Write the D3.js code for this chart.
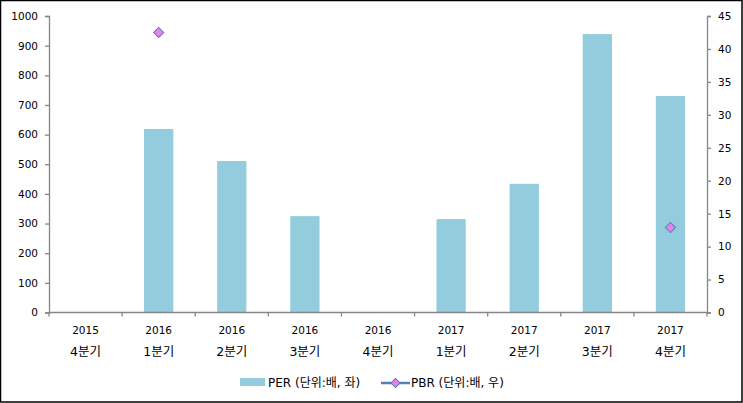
<!DOCTYPE html>
<html><head><meta charset="utf-8">
<script src="https://cdn.jsdelivr.net/npm/d3@7"></script>
<style>
html,body{margin:0;padding:0;background:#fff;}
svg{display:block;}
text{font-family:"DejaVu Sans","Noto Sans CJK KR",sans-serif;fill:#000;}
</style></head>
<body><svg id="c" width="743" height="403"></svg>
<script>
const years = ["2015","2016","2016","2016","2016","2017","2017","2017","2017"];
const quarters = ["4분기","1분기","2분기","3분기","4분기","1분기","2분기","3분기","4분기"];
const perValues = [null, 619, 511, 325, null, 315, 434, 939, 730];
const pbrValues = [null, 42.5, null, null, null, null, null, null, 12.9];
const leftTicks = [0,100,200,300,400,500,600,700,800,900,1000];
const rightTicks = [0,5,10,15,20,25,30,35,40,45];
const legendLabels = ["PER (단위:배, 좌)", "PBR (단위:배, 우)"];

const svg = d3.select("#c");
const W = 743, H = 403;
const m = {l:49, r:36, t:16, b:90.5};
const x0 = m.l, x1 = W - m.r, yTop = m.t, yBot = H - m.b;

svg.append("rect").attr("x",0.5).attr("y",0.5).attr("width",W-1.5).attr("height",H-1.5)
  .attr("fill","#fff").attr("stroke","#000").attr("stroke-width",1.5);

const idx = d3.range(years.length);
const x = d3.scaleBand().domain(idx).range([x0, x1]).paddingInner(0).paddingOuter(0);
const yL = d3.scaleLinear().domain([0,1000]).range([yBot, yTop]);
const yR = d3.scaleLinear().domain([0,45]).range([yBot, yTop]);

const axisColor = "#868686";
const gL = svg.append("g").attr("transform",`translate(${x0},0)`)
  .call(d3.axisLeft(yL).tickValues(leftTicks).tickSize(4).tickPadding(7).tickFormat(d3.format("d")));
const gR = svg.append("g").attr("transform",`translate(${x1},0)`)
  .call(d3.axisRight(yR).tickValues(rightTicks).tickSize(4).tickPadding(7).tickFormat(d3.format("d")));
[gL,gR].forEach(g=>{
  g.select(".domain").attr("stroke",axisColor).attr("stroke-width",1.3);
  g.selectAll(".tick line").attr("stroke",axisColor).attr("stroke-width",1.3);
  g.selectAll(".tick text").style("font-size","10.5px").attr("fill","#000");
});

const bw = x.bandwidth()*0.4;
svg.append("g").selectAll("rect").data(idx.filter(i=>perValues[i]!=null)).join("rect")
  .attr("x", i => x(i) + x.bandwidth()/2 - bw/2)
  .attr("width", bw)
  .attr("y", i => yL(perValues[i]))
  .attr("height", i => yBot - yL(perValues[i]))
  .attr("fill","#93CDDD");

const gB = svg.append("g").attr("transform",`translate(0,${yBot})`);
gB.append("line").attr("x1",x0).attr("x2",x1).attr("y1",0).attr("y2",0)
  .attr("stroke",axisColor).attr("stroke-width",1.3);
const bticks = idx.concat([idx.length]);
gB.selectAll("line.t").data(bticks).join("line").attr("class","t")
  .attr("x1", i => i < idx.length ? x(i) : x1).attr("x2", i => i < idx.length ? x(i) : x1)
  .attr("y1",0).attr("y2",4).attr("stroke",axisColor).attr("stroke-width",1.3);
gB.selectAll("text.yr").data(idx).join("text").attr("class","yr")
  .attr("x", i => x(i)+x.bandwidth()/2).attr("y", 21.5)
  .attr("text-anchor","middle").style("font-size","10.5px").text(i=>years[i]);
gB.selectAll("text.q").data(idx).join("text").attr("class","q")
  .attr("x", i => x(i)+x.bandwidth()/2).attr("y", 43)
  .attr("text-anchor","middle").style("font-size","12.5px").text(i=>quarters[i]);

const line = d3.line().defined(i => pbrValues[i]!=null)
  .x(i => x(i)+x.bandwidth()/2).y(i => yR(pbrValues[i]));
svg.append("path").datum(idx).attr("d",line).attr("fill","none")
  .attr("stroke","#4F81BD").attr("stroke-width",2.5);
svg.append("g").selectAll("path").data(idx.filter(i=>pbrValues[i]!=null)).join("path")
  .attr("d", d3.symbol().type(d3.symbolSquare).size(52))
  .attr("transform", i => `translate(${x(i)+x.bandwidth()/2},${yR(pbrValues[i])}) rotate(45)`)
  .attr("fill","#F07EE6").attr("stroke","#4F81BD").attr("stroke-width",1);

const lg = svg.append("g");
lg.append("rect").attr("x",240).attr("y",378).attr("width",25).attr("height",8).attr("fill","#93CDDD");
lg.append("text").attr("x",268).attr("y",386.5).style("font-size","12px").text(legendLabels[0]);
lg.append("line").attr("x1",381).attr("x2",410).attr("y1",383).attr("y2",383)
  .attr("stroke","#4F81BD").attr("stroke-width",2.5);
lg.append("path").attr("d", d3.symbol().type(d3.symbolSquare).size(40))
  .attr("transform","translate(395.5,383) rotate(45)")
  .attr("fill","#F07EE6").attr("stroke","#4F81BD").attr("stroke-width",1);
lg.append("text").attr("x",411).attr("y",386.5).style("font-size","12px").text(legendLabels[1]);
</script></body></html>
